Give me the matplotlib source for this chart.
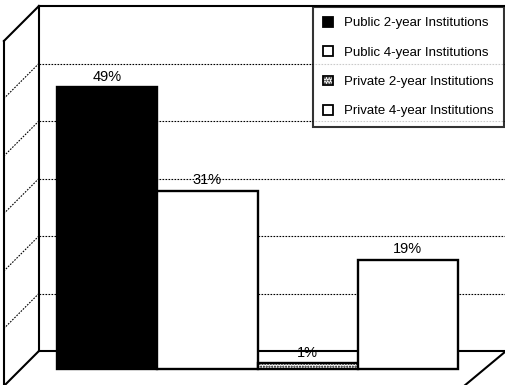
import matplotlib
matplotlib.use("Agg")
from matplotlib import pyplot as plt
from matplotlib.patches import Patch

plt.rcParams['font.family'] = ['Liberation Sans', 'DejaVu Sans']
plt.rcParams['hatch.linewidth'] = 1.0

# share of students by institution type (percent)
categories = ["Public 2-year Institutions", "Public 4-year Institutions",
              "Private 2-year Institutions", "Private 4-year Institutions"]
values = [49, 31, 1, 19]
bar_faces = ["black", "white", "white", "white"]
bar_hatches = [None, None, "......", None]
gridlines = [10, 20, 30, 40, 50]
wall_top = 60

# pixel scale of one bar width and of one percent
PX_X = 100.25
PX_Y = 5.75
W, H = 506, 385

fig = plt.figure(figsize=(W / 100, H / 100), dpi=100)
ax = fig.add_axes([0, 0, 1, 1])
x_left = -0.5 - 57 / PX_X
y_bottom = -(H - 369) / PX_Y
ax.set_xlim(x_left, x_left + W / PX_X)
ax.set_ylim(y_bottom, y_bottom + H / PX_Y)
ax.axis("off")

# oblique depth: back wall sits up-right of the bar plane, floor front down-left
BACK, FRONT = 18, -17
wall_x0, wall_x1 = -0.86, 3.80


def proj(x, v, d):
    return x + d / PX_X, v + d / PX_Y


def line(p, q, **kw):
    ax.plot([p[0], q[0]], [p[1], q[1]], **kw)


edge = dict(color="black", lw=1.5, zorder=2, solid_capstyle="projecting")
dots = dict(color="black", lw=0.8, ls=(0, (1.5, 1.2)), zorder=1)

# back wall and left side wall outlines
line(proj(wall_x0, 0, BACK), proj(wall_x0, wall_top, BACK), **edge)
line(proj(wall_x0, wall_top, BACK), proj(wall_x1 + 0.2, wall_top, BACK), **edge)
line(proj(wall_x0, 0, BACK), proj(wall_x1, 0, BACK), **edge)
line(proj(wall_x0, wall_top, BACK), proj(wall_x0, wall_top, FRONT), **edge)
line(proj(wall_x0, 0, FRONT), proj(wall_x0, wall_top, FRONT), **edge)
line(proj(wall_x0, 0, BACK), proj(wall_x0, 0, FRONT), **edge)
line(proj(wall_x1, 0, BACK), proj(wall_x1 - 0.07, 0, FRONT), **edge)

# dotted gridlines on both walls
for g in gridlines:
    line(proj(wall_x0, g, BACK), proj(wall_x1 + 0.2, g, BACK), **dots)
    line(proj(wall_x0, g, BACK), proj(wall_x0, g, FRONT), **dots)

xs = list(range(len(values)))
bars = ax.bar(xs, values, width=1.0, color=bar_faces, edgecolor="black",
              linewidth=1.7, zorder=3)
for b, h in zip(bars, bar_hatches):
    if h:
        b.set_hatch(h)

for x, v in zip(xs, values):
    ax.text(x, v + 1.8, f"{v}%", ha="center", va="center", fontsize=10.5,
            zorder=4)

handles = [Patch(facecolor=f, edgecolor="black", hatch=h, linewidth=1.3)
           for f, h in zip(bar_faces, bar_hatches)]
leg = ax.legend(handles, categories, loc="upper right",
                bbox_to_anchor=(504 / W, 1 - 7 / H), bbox_transform=fig.transFigure,
                borderaxespad=0, fontsize=9.5, frameon=True, fancybox=False,
                handlelength=0.75, handleheight=0.75, handletextpad=0.85,
                labelspacing=1.28, borderpad=0.75)
leg.get_frame().set_edgecolor("black")
leg.get_frame().set_linewidth(1.5)
leg.set_zorder(5)

fig.savefig("out.png", dpi=100)
